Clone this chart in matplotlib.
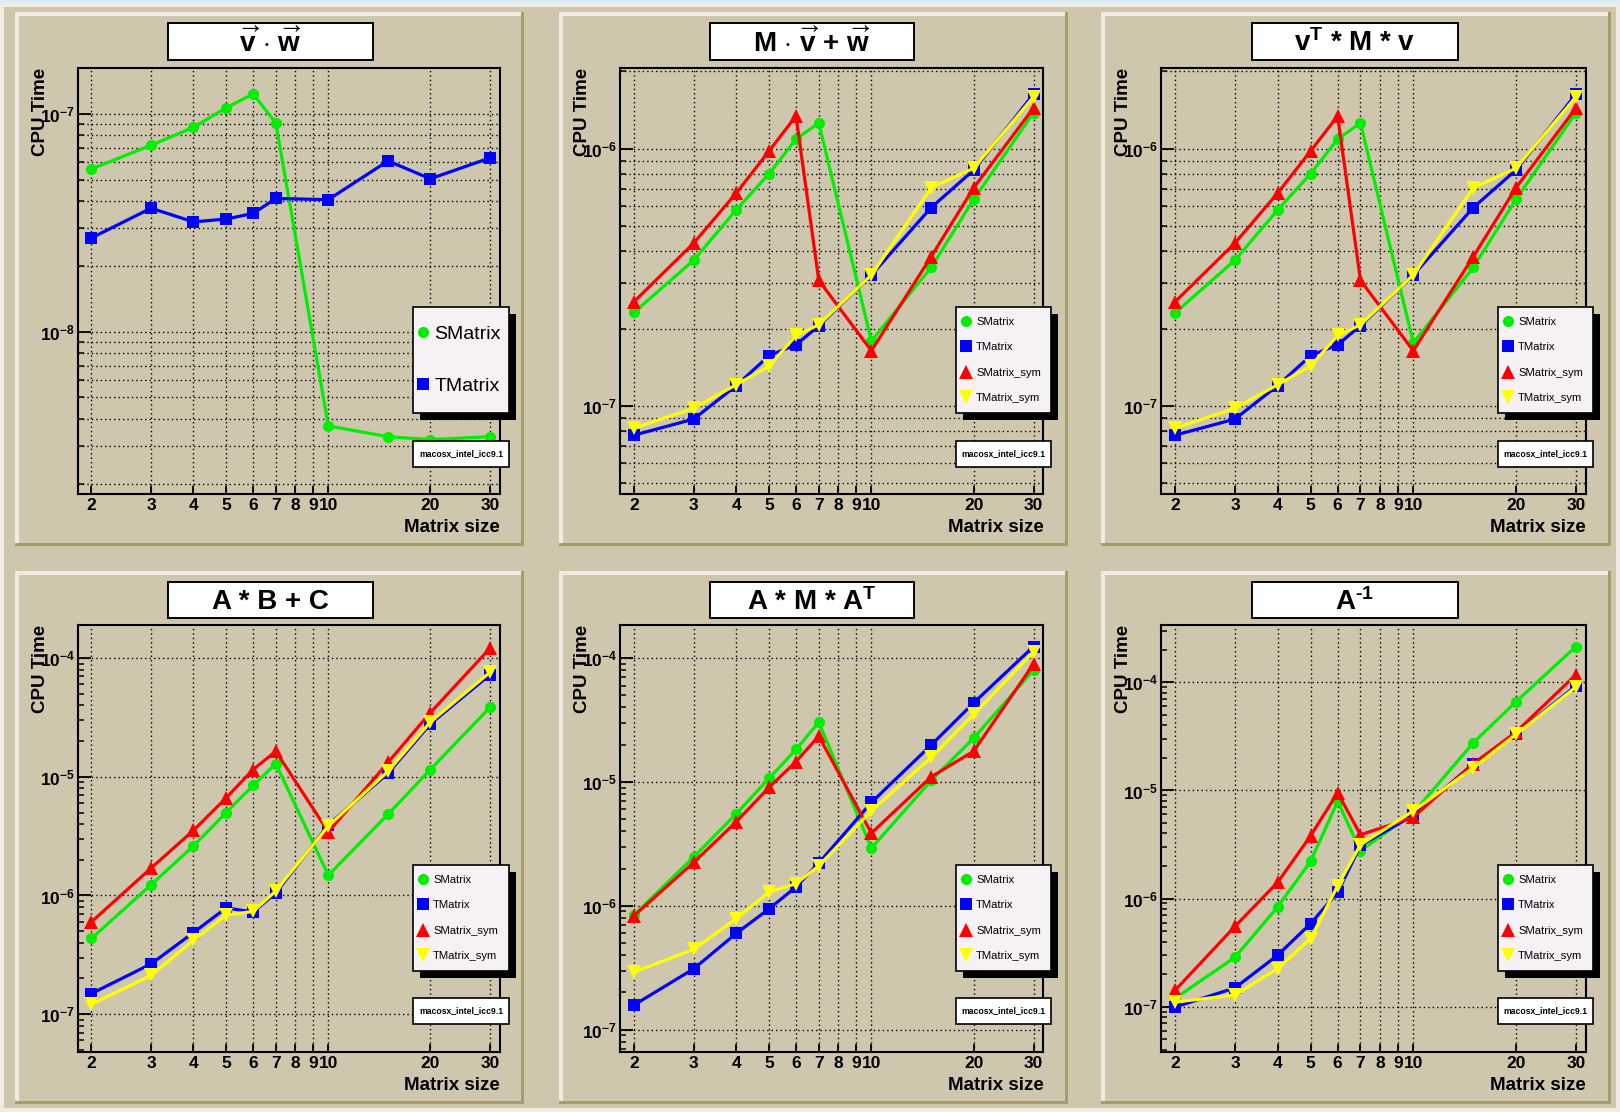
import matplotlib
matplotlib.use('Agg')
import matplotlib.pyplot as plt
from matplotlib.patches import Rectangle
from matplotlib.lines import Line2D
from matplotlib.ticker import FixedLocator, FixedFormatter, LogLocator, NullFormatter, LogFormatterSciNotation

plt.rcParams['font.family'] = ['Liberation Sans', 'DejaVu Sans']
plt.rcParams['font.weight'] = 'bold'
plt.rcParams['mathtext.fontset'] = 'custom'
plt.rcParams['mathtext.rm'] = 'Liberation Sans:bold'
plt.rcParams['mathtext.it'] = 'Liberation Sans:bold'
plt.rcParams['mathtext.bf'] = 'Liberation Sans:bold'
plt.rcParams['mathtext.sf'] = 'Liberation Sans:bold'

# matrix sizes measured
sizes = [2, 3, 4, 5, 6, 7, 10, 15, 20, 30]
xtick_values = [2, 3, 4, 5, 6, 7, 8, 9, 10, 20, 30]
xtick_labels = ['2', '3', '4', '5', '6', '7', '8', '9', '10', '20', '30']

series_names = ['SMatrix', 'TMatrix', 'SMatrix_sym', 'TMatrix_sym']

# v . w
dot_smatrix = [5.6e-8, 7.2e-8, 8.7e-8, 1.07e-7, 1.24e-7, 9.1e-8, 3.7e-9, 3.3e-9, 3.2e-9, 3.3e-9]
dot_tmatrix = [2.7e-8, 3.7e-8, 3.2e-8, 3.3e-8, 3.5e-8, 4.1e-8, 4.05e-8, 6.1e-8, 5.05e-8, 6.3e-8]

# M . v + w
mv_smatrix = [2.31e-7, 3.69e-7, 5.78e-7, 8.0e-7, 1.09e-6, 1.26e-6, 1.79e-7, 3.46e-7, 6.36e-7, 1.38e-6]
mv_tmatrix = [7.7e-8, 8.9e-8, 1.2e-7, 1.57e-7, 1.73e-7, 2.05e-7, 3.23e-7, 5.91e-7, 8.26e-7, 1.63e-6]
mv_smatrix_sym = [2.54e-7, 4.3e-7, 6.72e-7, 9.8e-7, 1.34e-6, 3.08e-7, 1.64e-7, 3.81e-7, 7.05e-7, 1.44e-6]
mv_tmatrix_sym = [8.2e-8, 9.8e-8, 1.21e-7, 1.43e-7, 1.88e-7, 2.07e-7, 3.23e-7, 7.05e-7, 8.4e-7, 1.59e-6]

# v^T * M * v
vmv_smatrix = [2.3e-7, 3.69e-7, 5.78e-7, 8.0e-7, 1.09e-6, 1.26e-6, 1.76e-7, 3.46e-7, 6.36e-7, 1.38e-6]
vmv_tmatrix = [7.7e-8, 8.9e-8, 1.2e-7, 1.57e-7, 1.73e-7, 2.05e-7, 3.23e-7, 5.91e-7, 8.26e-7, 1.63e-6]
vmv_smatrix_sym = [2.54e-7, 4.3e-7, 6.72e-7, 9.8e-7, 1.34e-6, 3.08e-7, 1.64e-7, 3.81e-7, 7.05e-7, 1.44e-6]
vmv_tmatrix_sym = [8.2e-8, 9.8e-8, 1.21e-7, 1.43e-7, 1.88e-7, 2.07e-7, 3.23e-7, 7.05e-7, 8.4e-7, 1.59e-6]

# A * B + C
abc_smatrix = [4.34e-7, 1.23e-6, 2.61e-6, 5.0e-6, 8.45e-6, 1.29e-5, 1.48e-6, 4.83e-6, 1.15e-5, 3.85e-5]
abc_tmatrix = [1.49e-7, 2.65e-7, 4.87e-7, 7.86e-7, 7.24e-7, 1.05e-6, 3.93e-6, 1.07e-5, 2.79e-5, 7.26e-5]
abc_smatrix_sym = [5.98e-7, 1.7e-6, 3.53e-6, 6.65e-6, 1.15e-5, 1.64e-5, 3.43e-6, 1.32e-5, 3.47e-5, 1.21e-4]
abc_tmatrix_sym = [1.21e-7, 2.12e-7, 4.19e-7, 6.85e-7, 7.33e-7, 1.09e-6, 3.85e-6, 1.11e-5, 2.89e-5, 7.6e-5]

# A * M * A^T
ama_smatrix = [8.4e-7, 2.48e-6, 5.53e-6, 1.07e-5, 1.83e-5, 3.04e-5, 2.92e-6, 1.03e-5, 2.26e-5, 8.0e-5]
ama_tmatrix = [1.58e-7, 3.1e-7, 5.98e-7, 9.46e-7, 1.42e-6, 2.21e-6, 6.83e-6, 1.99e-5, 4.35e-5, 1.24e-4]
ama_smatrix_sym = [8.3e-7, 2.24e-6, 4.76e-6, 9.04e-6, 1.46e-5, 2.34e-5, 3.86e-6, 1.1e-5, 1.77e-5, 8.95e-5]
ama_tmatrix_sym = [2.91e-7, 4.45e-7, 7.87e-7, 1.29e-6, 1.51e-6, 2.1e-6, 5.83e-6, 1.58e-5, 3.51e-5, 1.12e-4]

# A^-1
inv_smatrix = [1.19e-7, 2.86e-7, 8.36e-7, 2.21e-6, 7.93e-6, 2.77e-6, 6.19e-6, 2.77e-5, 6.62e-5, 2.15e-4]
inv_tmatrix = [9.9e-8, 1.49e-7, 2.99e-7, 5.87e-7, 1.14e-6, 3.1e-6, 5.87e-6, 1.77e-5, 3.35e-5, 9.3e-5]
inv_smatrix_sym = [1.41e-7, 5.53e-7, 1.41e-6, 3.8e-6, 9.55e-6, 3.89e-6, 5.65e-6, 1.77e-5, 3.47e-5, 1.18e-4]
inv_tmatrix_sym = [1.1e-7, 1.28e-7, 2.25e-7, 4.26e-7, 1.31e-6, 3.15e-6, 6.47e-6, 1.62e-5, 3.3e-5, 9.08e-5]

titles = [r'$\overrightarrow{v}$ $\cdot$ $\overrightarrow{w}$',
          r'M $\cdot$ $\overrightarrow{v}$ + $\overrightarrow{w}$',
          r'v$^{\mathrm{T}}$ * M * v',
          'A * B + C', r'A * M * A$^{\mathrm{T}}$', r'A$^{\text{-1}}$']
panel_data = [[dot_smatrix, dot_tmatrix],
              [mv_smatrix, mv_tmatrix, mv_smatrix_sym, mv_tmatrix_sym],
              [vmv_smatrix, vmv_tmatrix, vmv_smatrix_sym, vmv_tmatrix_sym],
              [abc_smatrix, abc_tmatrix, abc_smatrix_sym, abc_tmatrix_sym],
              [ama_smatrix, ama_tmatrix, ama_smatrix_sym, ama_tmatrix_sym],
              [inv_smatrix, inv_tmatrix, inv_smatrix_sym, inv_tmatrix_sym]]
ylims = [(1.8e-9, 1.63e-7), (4.55e-8, 2.06e-6), (4.55e-8, 2.06e-6),
         (4.8e-8, 1.9e-4), (6.6e-8, 1.85e-4), (3.8e-8, 3.4e-4)]

colors = ['#00ee00', '#0000ff', '#ff0000', '#ffff00']
markers = ['o', 's', '^', 'v']
msizes = [8, 8.5, 9.5, 9.5]

TAN = '#cec7ae'
LIGHT = '#f2ebe4'
DARK = '#a69d6c'

W, H = 1620, 1112


def frect(x0, y0, x1, y1):
    # pixel box (top-left origin) -> figure fraction [l, b, w, h]
    return [x0 / W, 1 - y1 / H, (x1 - x0) / W, (y1 - y0) / H]


def add_box(fig, x0, y0, x1, y1, **kw):
    l, b, w, h = frect(x0, y0, x1, y1)
    r = Rectangle((l, b), w, h, transform=fig.transFigure, **kw)
    fig.add_artist(r)
    return r


fig = plt.figure(figsize=(16.2, 11.12), dpi=100, facecolor=LIGHT)
add_box(fig, 0, 0, W, 3, facecolor='#d6eef3', edgecolor='none', zorder=-10)
add_box(fig, 4, 7, W - 4, H - 4, facecolor=TAN, edgecolor='none', zorder=-10)

pad_cols = [(15, 524), (559, 1068), (1101, 1611)]
pad_rows = [(12, 546), (571, 1104)]
axes_cols = [(77.5, 500), (620, 1043.5), (1161, 1586)]
axes_rows = [(68, 494), (625, 1052)]
title_cols = [(168, 373), (710, 914), (1252, 1458)]
title_rows = [(23, 60), (582, 618)]
legend_cols = [(413, 509), (956, 1051), (1498, 1593)]
legend_rows = [(307, 413), (865, 971)]
stamp_rows = [(441, 467), (998, 1024)]

for k in range(6):
    row, col = divmod(k, 3)
    px0, px1 = pad_cols[col]
    py0, py1 = pad_rows[row]
    # bevelled pad
    add_box(fig, px0, py0, px1, py1, facecolor=DARK, edgecolor='none', zorder=-5)
    add_box(fig, px0, py0, px1 - 3, py1 - 3, facecolor=LIGHT, edgecolor='none', zorder=-5)
    add_box(fig, px0 + 4, py0 + 4, px1 - 3, py1 - 3, facecolor=TAN, edgecolor='none', zorder=-5)

    ax0, ax1 = axes_cols[col]
    ay0, ay1 = axes_rows[row]
    ax = fig.add_axes(frect(ax0, ay0, ax1, ay1))
    ax.set_facecolor('none')

    data = panel_data[k]
    for i, ys in enumerate(data):
        ax.plot(sizes, ys, color=colors[i], lw=2.3, marker=markers[i], ms=msizes[i],
                markeredgewidth=0, zorder=3 + i)

    ax.set_xscale('log')
    ax.set_yscale('log')
    ax.set_xlim(1.82, 32.1)
    ax.set_ylim(*ylims[k])

    ax.xaxis.set_major_locator(FixedLocator(xtick_values))
    ax.xaxis.set_major_formatter(FixedFormatter(xtick_labels))
    ax.xaxis.set_minor_locator(FixedLocator([]))
    ax.yaxis.set_major_locator(LogLocator(base=10))
    ax.yaxis.set_major_formatter(LogFormatterSciNotation())
    ax.yaxis.set_minor_locator(LogLocator(base=10, subs=range(2, 10)))
    ax.yaxis.set_minor_formatter(NullFormatter())

    ax.tick_params(axis='x', which='major', direction='in', length=6, width=1.3,
                   labelsize=12.5, pad=3, top=False)
    ax.tick_params(axis='y', which='major', direction='in', length=9, width=1.3,
                   labelsize=12.5, pad=2, right=False)
    ax.tick_params(axis='y', which='minor', direction='in', length=4.5, width=1.1, right=False)
    for s in ax.spines.values():
        s.set_linewidth(1.5)
        s.set_color('black')

    ax.grid(True, axis='x', which='major', color='black', ls=(0, (1, 2.2)), lw=1.0)
    ax.grid(True, axis='y', which='major', color='black', ls=(0, (1, 2.2)), lw=1.0)
    if row == 0:
        ax.grid(True, axis='y', which='minor', color='black', ls=(0, (1, 2.2)), lw=1.0)

    ax.set_xlabel('Matrix size', loc='right', fontsize=13.5, fontweight='bold')
    ax.xaxis.set_label_coords(1.0, -0.058)
    ax.set_ylabel('CPU Time', loc='top', fontsize=13.5, fontweight='bold')
    ax.yaxis.set_label_coords(-0.068, 1.0)

    # title box
    tx0, tx1 = title_cols[col]
    ty0, ty1 = title_rows[row]
    add_box(fig, tx0, ty0, tx1, ty1, facecolor='white', edgecolor='black', lw=1.4, zorder=5)
    fig.text((tx0 + tx1) / 2 / W, 1 - ((ty0 + ty1) / 2 + 2) / H, titles[k], ha='center', va='center',
             fontsize=20, fontweight='bold', zorder=6)

    # legend box with shadow
    lx0, lx1 = legend_cols[col]
    ly0, ly1 = legend_rows[row]
    add_box(fig, lx0 + 7, ly0 + 7, lx1 + 7, ly1 + 7, facecolor='black', edgecolor='none', zorder=5)
    add_box(fig, lx0, ly0, lx1, ly1, facecolor='#f5f1f4', edgecolor='black', lw=1.2, zorder=6)
    n = len(data)
    handles = [Line2D([], [], ls='none', marker=markers[i], color=colors[i], ms=msizes[i],
                      markeredgewidth=0) for i in range(n)]
    if n == 2:
        fs, spacing, hl, tp, bp = 14, 1.75, 0.55, 0.3, 0.25
    else:
        fs, spacing, hl, tp, bp = 8.1, 1.35, 1.0, 0.45, 0.35
    leg = fig.legend(handles, series_names[:n], loc='center left',
                     bbox_to_anchor=(lx0 / W, 1 - (ly0 + ly1) / 2 / H), frameon=False,
                     prop={'size': fs, 'weight': 'normal'}, labelspacing=spacing,
                     handlelength=hl, handletextpad=tp, borderpad=0, borderaxespad=bp)
    leg.set_zorder(7)

    # machine stamp
    sy0, sy1 = stamp_rows[row]
    add_box(fig, lx0, sy0, lx1, sy1, facecolor='white', edgecolor='black', lw=1.2, zorder=5)
    fig.text((lx0 + lx1) / 2 / W, 1 - (sy0 + sy1) / 2 / H, 'macosx_intel_icc9.1', ha='center',
             va='center', fontsize=6.2, fontweight='bold', zorder=6)

fig.savefig('out.png', dpi=100, facecolor=fig.get_facecolor())
